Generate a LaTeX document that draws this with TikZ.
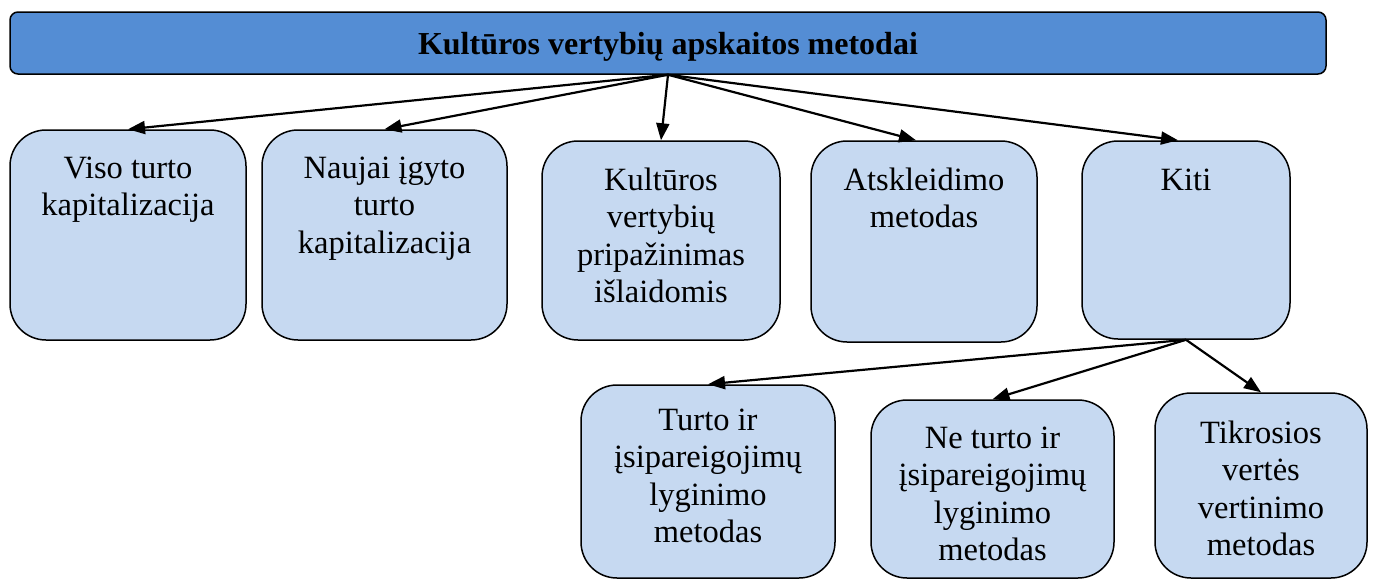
\documentclass[tikz,border=0pt]{standalone}
\usepackage{fontspec}
\setmainfont{Liberation Serif}
\usetikzlibrary{arrows.meta,calc}
\definecolor{titlefill}{RGB}{84,141,212}
\definecolor{boxfill}{RGB}{198,217,241}
\newcommand{\mylines}[1]{\begin{tabular}[t]{@{}c@{}}#1\end{tabular}}
\tikzset{
  titlebox/.style={draw=black, line width=1.5pt, fill=titlefill, rounded corners=8pt,
    minimum width=1316pt, minimum height=62pt, inner sep=0pt, text depth=0pt,
    font=\fontsize{32}{37.5}\selectfont\bfseries},
  mbox/.style={draw=black, line width=1.5pt, fill=boxfill, rounded corners=36pt, inner sep=0pt},
  lbl/.style={anchor=base, inner sep=0pt, font=\fontsize{32.5}{37.5}\selectfont},
  conn/.style={line width=2.2pt, -{Triangle[length=17pt,width=13pt]}}
}
\begin{document}
\begin{tikzpicture}[x=1pt,y=-1pt]
\useasboundingbox (0,0) rectangle (1375,581);
\node[titlebox] (title) at (668,43) {Kultūros vertybių apskaitos metodai};
\node[mbox, minimum width=236pt, minimum height=210pt] (b1) at (128,235) {};
\node[mbox, minimum width=245pt, minimum height=210pt] (b2) at (384.5,235) {};
\node[mbox, minimum width=238pt, minimum height=199pt] (b3) at (661,240.5) {};
\node[mbox, minimum width=226pt, minimum height=201pt] (b4) at (924,241.5) {};
\node[mbox, minimum width=208pt, minimum height=198pt] (b5) at (1186,240) {};
\node[mbox, minimum width=254pt, minimum height=193pt] (b6) at (708,481.5) {};
\node[mbox, minimum width=243pt, minimum height=178pt] (b7) at (992.5,489) {};
\node[mbox, minimum width=212pt, minimum height=185pt] (b8) at (1261,485.5) {};
\node[lbl] (t1) at (128,178) {\mylines{Viso turto\\kapitalizacija}};
\node[lbl] (t2) at (384.5,178) {\mylines{Naujai įgyto\\turto\\kapitalizacija}};
\node[lbl] (t3) at (661,190) {\mylines{Kultūros\\vertybių\\pripažinimas\\išlaidomis}};
\node[lbl] (t4) at (924,190) {\mylines{Atskleidimo\\metodas}};
\node[lbl] (t5) at (1186,190) {\mylines{Kiti}};
\node[lbl] (t6) at (708,430) {\mylines{Turto ir\\įsipareigojimų\\lyginimo\\metodas}};
\node[lbl] (t7) at (992.5,448) {\mylines{Ne turto ir\\įsipareigojimų\\lyginimo\\metodas}};
\node[lbl] (t8) at (1261,443) {\mylines{Tikrosios\\vertės\\vertinimo\\metodas}};
\draw[conn] (title.south) -- (b1.north);
\draw[conn] (title.south) -- (b2.north);
\draw[conn] (title.south) -- (b3.north);
\draw[conn] (title.south) -- ($(b4.north)+(-8,0)$);
\draw[conn] (title.south) -- ($(b5.north)+(-8,0)$);
\draw[conn] (b5.south) -- (b6.north);
\draw[conn] (b5.south) -- (b7.north);
\draw[conn] (b5.south) -- (b8.north);
\end{tikzpicture}
\end{document}
